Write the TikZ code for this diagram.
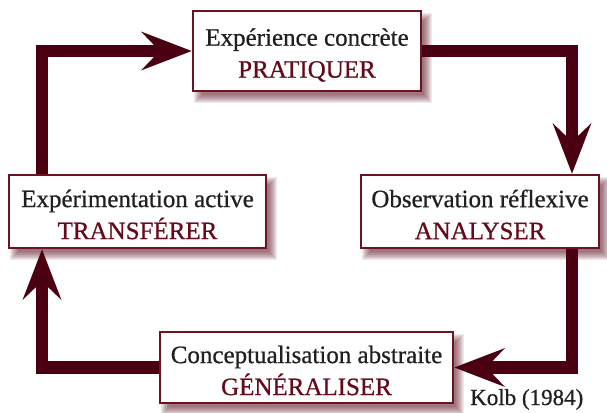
\documentclass[tikz,border=0pt]{standalone}
\usepackage{fontspec}
\setmainfont{Liberation Serif}[FakeBold=0.7]
\usetikzlibrary{arrows.meta,backgrounds}
\definecolor{arrowc}{HTML}{4A0010}
\definecolor{borderc}{HTML}{6A1422}
\definecolor{redtext}{HTML}{640A1A}
\definecolor{blacktext}{HTML}{202020}
\definecolor{shadowc}{HTML}{5A1020}
\tikzset{
  box/.style={draw=borderc, line width=2.5pt, fill=white, inner sep=0pt},
  boxtext/.style={inner sep=0pt, align=center, text=blacktext,
    font=\fontsize{25}{32}\selectfont},
  arr/.style={draw=arrowc, line width=12.5pt, line join=miter,
    -{Stealth[length=50pt, width=38pt, inset=18pt]}},
}
\newcommand{\redword}[1]{\textcolor{redtext}{#1}}
\begin{document}
\begin{tikzpicture}[x=1pt,y=-1pt]
\useasboundingbox (0,0) rectangle (607,412);
\node[box, minimum width=228pt, minimum height=80pt] (topbox) at (307,51) {};
\node[box, minimum width=257pt, minimum height=73pt] (leftbox) at (137.5,211.5) {};
\node[box, minimum width=238pt, minimum height=73pt] (rightbox) at (480,211.5) {};
\node[box, minimum width=293pt, minimum height=71pt] (botbox) at (306.5,367.5) {};
\node[boxtext] (toptext) at ([yshift=-4pt]topbox.center)
  {Expérience concrète\\\redword{PRATIQUER}};
\node[boxtext] (lefttext) at ([yshift=-3pt]leftbox.center)
  {Expérimentation active\\\redword{TRANSFÉRER}};
\node[boxtext] (righttext) at ([yshift=-3pt]rightbox.center)
  {Observation réflexive\\\redword{ANALYSER}};
\node[boxtext] (bottext) at ([yshift=-3pt]botbox.center)
  {Conceptualisation abstraite\\\redword{GÉNÉRALISER}};
\node[anchor=base west, inner sep=0pt, text=blacktext, font=\fontsize{23}{26}\selectfont] (kolb) at (470,405) {Kolb (1984)};
\coordinate (cL) at (42,0);
\coordinate (cR) at (572,0);
\begin{scope}[on background layer]
  \foreach \n in {topbox,leftbox,rightbox,botbox}{
    \foreach \r in {-4,-3,...,4}{
      \fill[shadowc, opacity=0.09]
        ([shift={(6-\r,7-\r)}]\n.north west) rectangle ([shift={(6+\r,7+\r)}]\n.south east);
    }
  }
  \draw[arr] (leftbox.north -| cL) |- (topbox.west);
  \draw[arr] (topbox.east) -| (rightbox.north -| cR);
  \draw[arr] (rightbox.south -| cR) |- (botbox.east);
  \draw[arr] (botbox.west) -| (leftbox.south -| cL);
\end{scope}
\end{tikzpicture}
\end{document}
